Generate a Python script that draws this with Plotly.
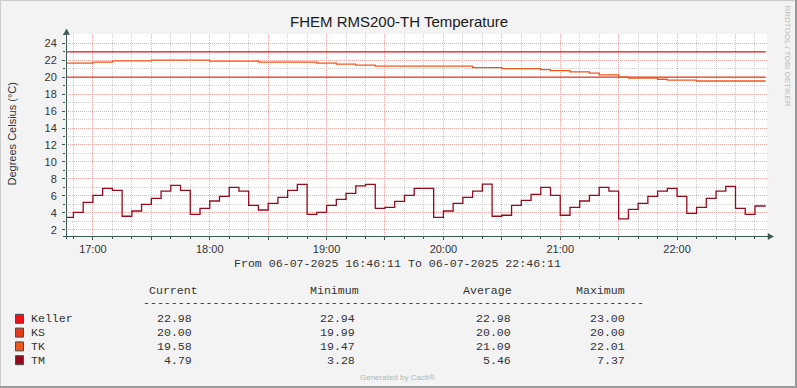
import plotly.graph_objects as go
import pandas as pd

# ---------------- data ----------------
DAY = "2025-07-06 "
t_start = DAY + "16:46:11"
t_end = DAY + "22:46:11"
t_last = DAY + "22:45:30"

series_names = ["Keller", "KS", "TK", "TM"]
series_colors = ["#F01018", "#E8381C", "#F0561A", "#960A1C"]

keller_times = [t_start, t_last]
keller_vals = [22.98, 22.98]

ks_times = [t_start, t_last]
ks_vals = [20.00, 20.00]

tk_times = ["16:46:11", "17:00", "17:10", "17:30", "18:00", "18:25", "18:55",
            "19:05", "19:15", "19:25", "20:15", "20:30", "20:50", "20:55",
            "21:05", "21:15", "21:20", "21:30", "21:35", "21:50", "21:55",
            "22:10", "22:45:30"]
tk_vals = [21.65, 21.77, 21.93, 22.01, 21.89, 21.77, 21.65,
           21.54, 21.42, 21.30, 21.13, 21.02, 20.90, 20.78,
           20.63, 20.47, 20.27, 20.00, 19.90, 19.76, 19.65,
           19.55, 19.55]

# TM: first partial sample, then 5-minute samples 16:50 ... 22:40, then last point
tm_vals = [3.46,
           4.05, 5.23, 6.05, 6.87, 6.64, 3.58, 4.20, 4.99, 5.70, 6.55, 7.23, 6.64,
           3.81, 4.52, 5.38, 5.93, 6.99, 6.55, 4.87, 4.32, 5.11, 5.81, 6.64, 7.34,
           3.81, 4.05, 4.87, 5.58, 6.29, 7.18, 7.34, 4.52, 4.64, 5.34, 6.05, 6.87,
           6.87, 3.46, 4.20, 5.11, 5.81, 6.55, 7.37, 3.58, 3.70, 4.87, 5.46, 6.17,
           6.99, 6.05, 3.70, 4.64, 5.38, 6.05, 6.99, 6.55, 3.28, 4.40, 5.11, 5.93,
           6.55, 6.87, 5.93, 3.93, 4.64, 5.70, 6.55, 7.11, 4.52, 3.81, 4.79,
           4.79]
tm_times = ([pd.Timestamp(t_start)]
            + list(pd.date_range(DAY + "16:50", DAY + "22:40", freq="5min"))
            + [pd.Timestamp(t_last)])
assert len(tm_times) == len(tm_vals)

stat_current = ["22.98", "20.00", "19.58", "4.79"]
stat_minimum = ["22.94", "19.99", "19.47", "3.28"]
stat_average = ["22.98", "20.00", "21.09", "5.46"]
stat_maximum = ["23.00", "20.00", "22.01", "7.37"]
stat_headers = ["Current", "Minimum", "Average", "Maximum"]

y_ticks_major = 2
y_ticks_minor = 1

# ---------------- layout geometry ----------------
WIDTH, HEIGHT = 797, 388
L, T, PW, PH = 66, 34, 701, 202
R = WIDTH - L - PW
B = HEIGHT - T - PH


def px(x):
    return (x - L) / PW


def py(y):
    return (T + PH - y) / PH


AXIS = "#3A5A52"
TXT = "#333333"
SANS = "Liberation Sans, Arial, sans-serif"
MONO = "Liberation Mono, Courier New, monospace"
MONO_SIZE = 11.6

fig = go.Figure()

all_series = [
    (keller_times, keller_vals),
    (ks_times, ks_vals),
    ([DAY + t if len(t) > 5 else DAY + t + ":00" for t in tk_times], tk_vals),
    (tm_times, tm_vals),
]
for name, color, (xs, ys) in zip(series_names, series_colors, all_series):
    fig.add_trace(go.Scatter(
        x=pd.to_datetime(xs), y=ys, mode="lines", name=name,
        line=dict(color=color, width=1.3, shape="hv"),
        showlegend=False, hoverinfo="skip"))

# ticks / grid
major_x = list(pd.date_range(DAY + "17:00", DAY + "22:30", freq="30min"))
major_txt = [d.strftime("%H:%M") if d.minute == 0 else "" for d in major_x]
minor_x = [d for d in pd.date_range(DAY + "16:50", DAY + "22:40", freq="10min")
           if d.minute not in (0, 30)]

MAJ_GRID = "#F4A8A8"
MIN_GRID = "#CFCFCF"

fig.update_xaxes(
    type="date", range=[t_start, t_end],
    tickmode="array", tickvals=major_x, ticktext=major_txt,
    showgrid=True, gridcolor=MAJ_GRID, griddash="1px,1px", gridwidth=1,
    ticks="outside", ticklen=3, tickcolor=AXIS,
    tickfont=dict(family=SANS, size=11, color=TXT),
    minor=dict(tickmode="array", tickvals=minor_x, showgrid=True,
               gridcolor=MIN_GRID, griddash="1px,1px", gridwidth=1,
               ticks="outside", ticklen=2, tickcolor=AXIS),
    showline=False, zeroline=False, fixedrange=True,
)
fig.update_yaxes(
    range=[1.25, 25.1], tickmode="linear", tick0=0, dtick=y_ticks_major,
    showgrid=True, gridcolor=MAJ_GRID, griddash="1px,1px", gridwidth=1,
    ticks="outside", ticklen=3, tickcolor=AXIS, ticklabelstandoff=3,
    tickfont=dict(family=SANS, size=11, color=TXT),
    minor=dict(tick0=0, dtick=y_ticks_minor, showgrid=True,
               gridcolor=MIN_GRID, griddash="1px,1px", gridwidth=1,
               ticks="outside", ticklen=2, tickcolor=AXIS),
    showline=False, zeroline=False, fixedrange=True,
)

shapes = []
# axes with arrows
shapes.append(dict(type="line", xref="paper", yref="paper",
                   x0=px(66.5), x1=px(66.5), y0=py(239), y1=py(33),
                   line=dict(color=AXIS, width=1), layer="above"))
shapes.append(dict(type="line", xref="paper", yref="paper",
                   x0=px(63), x1=px(769), y0=py(236.5), y1=py(236.5),
                   line=dict(color=AXIS, width=1), layer="above"))
shapes.append(dict(type="path", xref="paper", yref="paper",
                   path=f"M {px(66.5)},{py(29)} L {px(63.5)},{py(34.5)} L {px(69.5)},{py(34.5)} Z",
                   fillcolor=AXIS, line=dict(color=AXIS, width=0.5), layer="above"))
shapes.append(dict(type="path", xref="paper", yref="paper",
                   path=f"M {px(773.5)},{py(236.5)} L {px(768)},{py(233.5)} L {px(768)},{py(239.5)} Z",
                   fillcolor=AXIS, line=dict(color=AXIS, width=0.5), layer="above"))
# frame (3D shade)
shapes += [
    dict(type="line", xref="paper", yref="paper", x0=px(0), x1=px(797), y0=py(0.5), y1=py(0.5),
         line=dict(color="#CBCBCB", width=1)),
    dict(type="line", xref="paper", yref="paper", x0=px(0.5), x1=px(0.5), y0=py(0), y1=py(388),
         line=dict(color="#CBCBCB", width=1)),
    dict(type="line", xref="paper", yref="paper", x0=px(0), x1=px(797), y0=py(387), y1=py(387),
         line=dict(color="#999999", width=2)),
    dict(type="line", xref="paper", yref="paper", x0=px(796), x1=px(796), y0=py(0), y1=py(388),
         line=dict(color="#999999", width=2)),
]

annotations = []
annotations.append(dict(text="FHEM RMS200-TH Temperature", xref="paper", yref="paper",
                        x=px(398.5), y=py(22), xanchor="center", yanchor="middle",
                        showarrow=False, font=dict(family=SANS, size=15, color="#1A1A1A")))
annotations.append(dict(text="Degrees Celsius (°C)", xref="paper", yref="paper",
                        x=px(11), y=py(134.5), xanchor="center", yanchor="middle",
                        textangle=-90, showarrow=False,
                        font=dict(family=SANS, size=11, color=TXT)))
annotations.append(dict(text="RRDTOOL / TOBI OETIKER", xref="paper", yref="paper",
                        x=px(787.5), y=py(56), xanchor="center", yanchor="middle",
                        textangle=90, showarrow=False,
                        font=dict(family=SANS, size=8, color="#BBBBBB")))
annotations.append(dict(text="From 06-07-2025 16:46:11 To 06-07-2025 22:46:11",
                        xref="paper", yref="paper", x=px(397.5), y=py(263.5),
                        xanchor="center", yanchor="middle", showarrow=False,
                        font=dict(family=MONO, size=MONO_SIZE, color=TXT)))
header_cx = [173, 334.2, 487.8, 600.2]
for h, cx in zip(stat_headers, header_cx):
    annotations.append(dict(text=h, xref="paper", yref="paper", x=px(cx), y=py(290.5),
                            xanchor="center", yanchor="middle", showarrow=False,
                            font=dict(family=MONO, size=MONO_SIZE, color=TXT)))
annotations.append(dict(text="-" * 72, xref="paper", yref="paper", x=px(393.8), y=py(302.5),
                        xanchor="center", yanchor="middle", showarrow=False,
                        font=dict(family=MONO, size=MONO_SIZE, color=TXT)))
col_right = [194, 356.5, 512.5, 626.5]
for i, (name, color) in enumerate(zip(series_names, series_colors)):
    ry = 318.8 + 13.8 * i
    shapes.append(dict(type="rect", xref="paper", yref="paper",
                       x0=px(15.5), x1=px(23.5), y0=py(ry - 4.5), y1=py(ry + 4.5),
                       fillcolor=color, line=dict(color="#3C5050", width=1)))
    annotations.append(dict(text=name, xref="paper", yref="paper", x=px(28.5), y=py(ry),
                            xanchor="left", yanchor="middle", showarrow=False,
                            font=dict(family=MONO, size=MONO_SIZE, color=TXT)))
    for vals, cr in zip([stat_current, stat_minimum, stat_average, stat_maximum], col_right):
        annotations.append(dict(text=vals[i], xref="paper", yref="paper", x=px(cr), y=py(ry),
                                xanchor="right", yanchor="middle", showarrow=False,
                                font=dict(family=MONO, size=MONO_SIZE, color=TXT)))
annotations.append(dict(text="Generated by Cacti®", xref="paper", yref="paper",
                        x=px(397), y=py(377.5), xanchor="center", yanchor="middle",
                        showarrow=False, font=dict(family=SANS, size=8, color="#B4B4B4")))

fig.update_layout(
    width=WIDTH, height=HEIGHT,
    margin=dict(l=L, r=R, t=T, b=B, pad=0),
    paper_bgcolor="#F3F3F3", plot_bgcolor="#FFFFFF",
    shapes=shapes, annotations=annotations,
    showlegend=False,
)

fig.write_html("out.html", config={"displayModeBar": False},
               post_script="document.body.style.margin='0';document.body.style.padding='0';"
                           "document.body.style.overflow='hidden';")
